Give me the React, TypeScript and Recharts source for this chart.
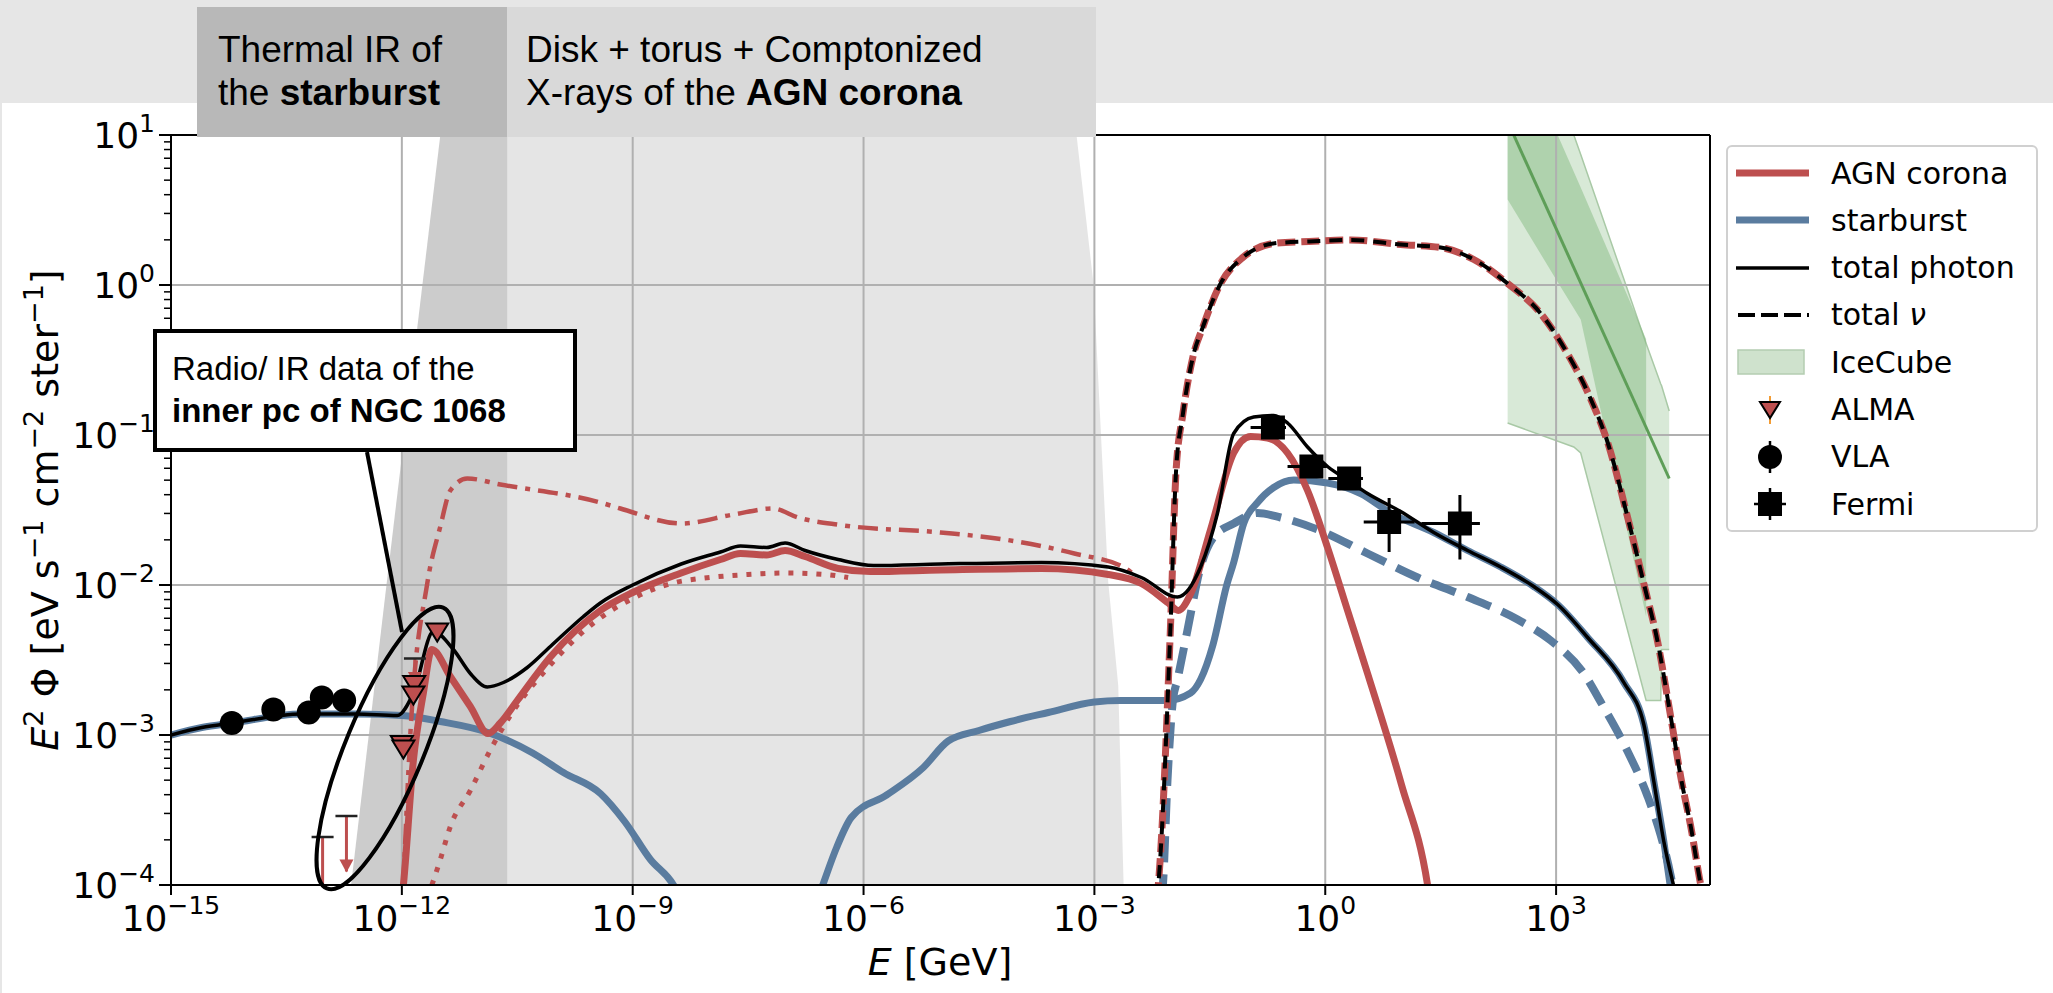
import React from 'react'
import {
  Area,
  ComposedChart,
  ErrorBar,
  Line,
  ReferenceLine,
  Scatter,
  XAxis,
  YAxis
} from 'recharts'

// every value is log10: x = log10(E / GeV), y = log10(E^2 Phi / eV s^-1 cm^-2 ster^-1)
type P = [number, number]

const xTicks = [-15, -12, -9, -6, -3, 0, 3]
const yTicks = [-4, -3, -2, -1, 0, 1]
const yMinorTicks = yTicks
  .slice(0, -1)
  .flatMap((d) => [2, 3, 4, 5, 6, 7, 8, 9].map((k) => d + Math.log10(k)))
const xGrid = [-12, -9, -6, -3, 0, 3]
const yGrid = [-3, -2, -1, 0]

// shaded energy ranges: [x, low, high]
const thermalBand = [
  [-12.66, -4, -4],
  [-12.2, -4, -2.0],
  [-11.5, -4, 1],
  [-10.63, -4, 1]
]
const diskBand = [
  [-10.63, -4, 1],
  [-3.23, -4, 0.99],
  [-3.01, -4, 0.0],
  [-2.82, -4, -1.98],
  [-2.69, -4, -2.67],
  [-2.62, -4, -4]
]

const starburstLow: P[] = [
  [-15.0, -3.0], [-14.6, -2.95], [-14.2, -2.92], [-13.3, -2.86], [-12.6, -2.86],
  [-12.0, -2.87], [-11.5, -2.91], [-10.9, -2.98], [-10.3, -3.12], [-9.9, -3.25],
  [-9.42, -3.39], [-9.1, -3.58], [-8.77, -3.83], [-8.47, -4.0], [-8.35, -4.12]
]
const starburstHigh: P[] = [
  [-6.6, -4.1], [-6.53, -4.0], [-6.35, -3.75], [-6.16, -3.55], [-5.7, -3.4],
  [-5.23, -3.22], [-4.9, -3.04], [-4.5, -2.97], [-4.09, -2.91], [-3.6, -2.85],
  [-3.0, -2.78], [-2.66, -2.77], [-2.06, -2.77], [-1.75, -2.72], [-1.62, -2.63],
  [-1.46, -2.4], [-1.28, -2.0], [-1.19, -1.85], [-1.06, -1.59], [-0.88, -1.45],
  [-0.67, -1.35], [-0.41, -1.3], [0.03, -1.32], [0.46, -1.39], [0.85, -1.52],
  [1.41, -1.65], [1.85, -1.77], [2.28, -1.88], [2.71, -2.01], [3.02, -2.13],
  [3.41, -2.35], [3.88, -2.65], [4.14, -2.93], [4.27, -3.31], [4.4, -3.71], [4.49, -4.03]
]
const starburstNu: P[] = [
  [-2.13, -4.1], [-2.11, -4.0], [-2.05, -3.3], [-1.98, -2.77], [-1.92, -2.63],
  [-1.79, -2.3], [-1.62, -1.88], [-1.45, -1.68], [-1.19, -1.59], [-0.88, -1.52],
  [-0.58, -1.55], [-0.1, -1.63], [0.55, -1.79], [1.2, -1.95], [1.85, -2.08],
  [2.5, -2.23], [2.93, -2.37], [3.36, -2.59], [3.58, -2.78], [3.93, -3.11],
  [4.19, -3.41], [4.36, -3.67], [4.49, -3.94], [4.53, -4.05]
]
const agnPhoton: P[] = [
  [-12.0, -4.1], [-11.98, -4.0], [-11.85, -3.17], [-11.72, -2.72], [-11.61, -2.43],
  [-11.37, -2.61], [-11.11, -2.81], [-10.88, -2.99], [-10.72, -2.92], [-10.5, -2.77],
  [-10.07, -2.48], [-9.42, -2.17], [-9.0, -2.05], [-8.37, -1.92], [-7.86, -1.83],
  [-7.6, -1.79], [-7.26, -1.8], [-7.02, -1.77], [-6.76, -1.81], [-6.33, -1.89],
  [-5.91, -1.91], [-5.0, -1.9], [-3.69, -1.89], [-2.82, -1.93], [-2.39, -1.99],
  [-2.04, -2.12], [-1.91, -2.17], [-1.75, -2.06], [-1.49, -1.63], [-1.19, -1.12],
  [-0.97, -1.01], [-0.75, -1.02], [-0.49, -1.12], [-0.23, -1.37], [0.03, -1.75],
  [0.29, -2.17], [0.55, -2.59], [0.99, -3.33], [1.33, -4.0], [1.36, -4.1]
]
const agnDashDot: P[] = [
  [-11.98, -4.0], [-11.89, -3.0], [-11.67, -1.99], [-11.5, -1.61], [-11.37, -1.37],
  [-11.15, -1.29], [-10.72, -1.33], [-9.42, -1.45], [-9.16, -1.49], [-8.37, -1.59],
  [-7.69, -1.53], [-7.18, -1.49], [-6.85, -1.55], [-6.3, -1.6], [-5.0, -1.65],
  [-4.13, -1.7], [-3.26, -1.79], [-2.59, -1.89], [-2.45, -1.95]
]
const agnDotted: P[] = [
  [-11.61, -4.0], [-11.5, -3.83], [-11.37, -3.61], [-11.11, -3.37], [-10.85, -3.1],
  [-10.59, -2.87], [-10.1, -2.55], [-9.5, -2.25], [-9.0, -2.09], [-8.5, -1.99],
  [-8.0, -1.95], [-7.5, -1.93], [-7.0, -1.92], [-6.5, -1.93], [-6.2, -1.95]
]
const agnNu: P[] = [
  [-2.19, -4.1], [-2.17, -4.0], [-2.01, -2.26], [-1.94, -1.25], [-1.85, -0.86],
  [-1.72, -0.48], [-1.59, -0.28], [-1.37, 0.0], [-1.08, 0.18], [-0.63, 0.28],
  [-0.21, 0.29], [0.33, 0.3], [0.98, 0.27], [1.5, 0.25], [1.93, 0.17],
  [2.37, 0.01], [2.8, -0.19], [3.15, -0.46], [3.45, -0.76], [3.67, -1.05],
  [3.93, -1.55], [4.14, -1.99], [4.32, -2.38], [4.49, -2.88], [4.62, -3.28],
  [4.75, -3.61], [4.88, -4.0], [4.92, -4.1]
]
const totalPhoton: P[] = [
  [-15.0, -3.0], [-14.6, -2.95], [-14.2, -2.92], [-13.3, -2.86], [-12.6, -2.86],
  [-12.06, -2.87], [-11.85, -2.72], [-11.59, -2.31], [-11.33, -2.43], [-11.11, -2.59],
  [-10.89, -2.68], [-10.68, -2.65], [-10.37, -2.55], [-10.07, -2.41], [-9.64, -2.21],
  [-9.42, -2.12], [-9.0, -2.0], [-8.37, -1.86], [-7.86, -1.78], [-7.6, -1.74],
  [-7.26, -1.75], [-7.02, -1.72], [-6.76, -1.77], [-6.33, -1.83], [-5.87, -1.87],
  [-5.0, -1.86], [-3.69, -1.85], [-2.82, -1.88], [-2.39, -1.95], [-1.92, -2.08],
  [-1.62, -1.88], [-1.4, -1.52], [-1.19, -0.99], [-0.93, -0.88], [-0.67, -0.87],
  [-0.49, -0.92], [-0.23, -1.08], [0.03, -1.21], [0.29, -1.3], [0.55, -1.39],
  [0.98, -1.51], [1.41, -1.65], [1.85, -1.77], [2.28, -1.88], [2.71, -2.01],
  [3.02, -2.13], [3.41, -2.35], [3.88, -2.65], [4.14, -2.93], [4.27, -3.31],
  [4.4, -3.71], [4.53, -4.01]
]
const totalNu: P[] = agnNu

// IceCube: [x, low, high]
const iceOuter = [
  [2.37, -0.92, 1.6], [3.23, -1.08, 1.0], [3.32, -1.12, 0.87], [4.17, -2.77, -0.39],
  [4.36, -2.77, -0.66], [4.37, -2.43, -0.67], [4.47, -2.43, -0.84]
]
const iceInner = [
  [2.37, 0.57, 1.6], [3.02, 0.02, 1.0], [3.32, -0.23, 0.65], [4.17, -2.21, -0.36]
]
const iceFit: P[] = [[2.37, 1.09], [4.47, -1.29]]

const vla: P[] = [[-14.21, -2.92], [-13.67, -2.83], [-13.21, -2.85], [-13.04, -2.75], [-12.75, -2.77]]
const alma: P[] = [[-11.54, -2.31], [-11.84, -2.66], [-11.85, -2.73], [-12.0, -3.06], [-11.98, -3.09]]
// [x, cap, tip]
const upperLimits = [[-13.03, -3.68, -4.3], [-12.72, -3.54, -3.91], [-11.83, -2.49, -2.66]]
// [x, y, x minus, x plus, y minus, y plus]
const fermi = [
  [-0.68, -0.95, 0.29, 0.17, 0, 0],
  [-0.18, -1.21, 0.31, 0.2, 0, 0],
  [0.31, -1.29, 0.27, 0.18, 0, 0],
  [0.83, -1.58, 0.33, 0.33, 0.2, 0.16],
  [1.75, -1.59, 0.5, 0.26, 0.24, 0.19]
]

const W = 2053
const H = 993
const FONT = '"DejaVu Sans", sans-serif'
const ARIAL = '"Liberation Sans", Arial, sans-serif'
const RED = '#bd4f4f'
const BLUE = '#5a7c9f'
const GREEN = '#5e9e58'

const pts = (a: P[]) => a.map(([x, y]) => ({ x, y }))
const band = (a: number[][]) => a.map(([x, lo, hi]) => ({ x, r: [lo, hi] }))
const sup = (v: number) => (v < 0 ? `\u2212${-v}` : `${v}`)

const XTick = ({ x, y, payload }: any) => (
  <g>
    <line x1={x} x2={x} y1={y} y2={y + 10} stroke="#000" strokeWidth={2} />
    <text x={x} y={y + 46} textAnchor="middle" fontFamily={FONT} fontSize={36} fill="#000">
      10<tspan dy={-17} fontSize={25}>{sup(payload.value)}</tspan>
    </text>
  </g>
)

const YTick = ({ x, y, payload }: any) => {
  const v = payload.value
  const major = Number.isInteger(v)
  return (
    <g>
      <line x1={x - (major ? 12 : 7)} x2={x} y1={y} y2={y} stroke="#000" strokeWidth={major ? 2 : 1.5} />
      {major && (
        <text x={x - 16} y={y + 13} textAnchor="end" fontFamily={FONT} fontSize={36} fill="#000">
          10<tspan dy={-16} fontSize={25}>{sup(v)}</tspan>
        </text>
      )}
    </g>
  )
}

const VlaDot = ({ cx, cy }: any) => <circle cx={cx} cy={cy} r={12} fill="#000" />
const AlmaMark = ({ cx, cy }: any) => (
  <path d={`M${cx - 11},${cy - 8} L${cx + 11},${cy - 8} L${cx},${cy + 10} Z`} fill={RED} stroke="#000" strokeWidth={2} />
)
const FermiMark = ({ cx, cy }: any) => <rect x={cx - 12} y={cy - 12} width={24} height={24} fill="#000" />
const LimitCap = ({ cx, cy }: any) => (
  <line x1={cx - 11} x2={cx + 11} y1={cy} y2={cy} stroke="#222" strokeWidth={2.5} />
)
const LimitHead = ({ cx, cy }: any) => (
  <path d={`M${cx - 7},${cy - 12} L${cx + 7},${cy - 12} L${cx},${cy + 1} Z`} fill={RED} />
)

const curve = (data: P[], color: string, width: number, dash?: string) => (
  <Line
    data={pts(data)}
    dataKey="y"
    type="monotoneX"
    stroke={color}
    strokeWidth={width}
    strokeDasharray={dash}
    dot={false}
    activeDot={false}
    isAnimationActive={false}
  />
)

const legendItems = ['AGN corona', 'starburst', 'total photon', 'total \u03bd', 'IceCube', 'ALMA', 'VLA', 'Fermi']

const LegendIcon = ({ i }: { i: number }) => {
  const c = 36
  return (
    <svg width={80} height={40} style={{ display: 'block' }}>
      {i === 0 && <line x1={2} x2={75} y1={20} y2={20} stroke={RED} strokeWidth={7} />}
      {i === 1 && <line x1={2} x2={75} y1={20} y2={20} stroke={BLUE} strokeWidth={7} />}
      {i === 2 && <line x1={2} x2={75} y1={20} y2={20} stroke="#000" strokeWidth={3.5} />}
      {i === 3 && <line x1={4} x2={75} y1={20} y2={20} stroke="#000" strokeWidth={4} strokeDasharray="17 6" />}
      {i === 4 && <rect x={4} y={8} width={66} height={24} fill="#cfe2cd" stroke="#b4cdb1" strokeWidth={1.5} />}
      {i === 5 && (
        <g>
          <line x1={c} x2={c} y1={6} y2={34} stroke="#f39c34" strokeWidth={2} />
          <path d={`M${c - 10},12 L${c + 10},12 L${c},28 Z`} fill={RED} stroke="#000" strokeWidth={2} />
        </g>
      )}
      {i === 6 && (
        <g>
          <line x1={c} x2={c} y1={4} y2={36} stroke="#000" strokeWidth={2.5} />
          <circle cx={c} cy={20} r={12} fill="#000" />
        </g>
      )}
      {i === 7 && (
        <g>
          <line x1={c} x2={c} y1={4} y2={36} stroke="#000" strokeWidth={2.5} />
          <line x1={c - 16} x2={c + 16} y1={20} y2={20} stroke="#000" strokeWidth={2.5} />
          <rect x={c - 12} y={8} width={24} height={24} fill="#000" />
        </g>
      )}
    </svg>
  )
}

const ChartLegend = () => (
  <div
    style={{
      position: 'absolute',
      left: 1726,
      top: 145,
      width: 312,
      height: 387,
      boxSizing: 'border-box',
      border: '2px solid #d0d0d0',
      borderRadius: 6,
      background: '#fff'
    }}
  >
    {legendItems.map((label, i) => (
      <div
        key={label}
        style={{ position: 'absolute', left: 6, top: 6 + i * 47.3, height: 40, display: 'flex', alignItems: 'center' }}
      >
        <LegendIcon i={i} />
        <span style={{ marginLeft: 17, fontFamily: FONT, fontSize: 30, color: '#000', whiteSpace: 'nowrap' }}>
          {i === 3 ? (
            <>
              total <span style={{ fontStyle: 'italic' }}>{'\u03bd'}</span>
            </>
          ) : (
            label
          )}
        </span>
      </div>
    ))}
  </div>
)

const headerText: React.CSSProperties = {
  fontFamily: ARIAL,
  fontSize: 37,
  lineHeight: '43px',
  color: '#000',
  whiteSpace: 'nowrap'
}

const Header = () => (
  <>
    <div style={{ position: 'absolute', left: 0, top: 0, width: W, height: 103, background: '#e6e6e6' }} />
    <div style={{ position: 'absolute', left: 0, top: 103, width: 2, height: H - 103, background: '#e6e6e6' }} />
    <div
      style={{ ...headerText, position: 'absolute', left: 197, top: 7, width: 310, height: 130, background: '#b8b8b8', boxSizing: 'border-box', padding: '21px 0 0 21px' }}
    >
      Thermal IR of
      <br />
      the <b>starburst</b>
    </div>
    <div
      style={{ ...headerText, position: 'absolute', left: 507, top: 7, width: 589, height: 130, background: '#d9d9d9', boxSizing: 'border-box', padding: '21px 0 0 19px' }}
    >
      Disk + torus + Comptonized
      <br />
      X-rays of the <b>AGN corona</b>
    </div>
  </>
)

const Annotation = () => (
  <>
    <svg width={W} height={H} style={{ position: 'absolute', left: 0, top: 0, pointerEvents: 'none' }}>
      <ellipse cx={385} cy={748} rx={152} ry={39} transform="rotate(-67.5 385 748)" fill="none" stroke="#000" strokeWidth={4} />
      <line x1={367} y1={452} x2={402} y2={632} stroke="#000" strokeWidth={4} />
      <text x={940} y={975} textAnchor="middle" fontFamily={FONT} fontSize={38} fill="#000">
        <tspan fontStyle="italic">E</tspan> [GeV]
      </text>
      <text x={58} y={510} transform="rotate(-90 58 510)" textAnchor="middle" fontFamily={FONT} fontSize={38} fill="#000">
        <tspan fontStyle="italic">E</tspan>
        <tspan dy={-15} fontSize={27}>2</tspan>
        <tspan dy={15}> {'\u03a6'} [eV s</tspan>
        <tspan dy={-15} fontSize={27}>{'\u22121'}</tspan>
        <tspan dy={15}> cm</tspan>
        <tspan dy={-15} fontSize={27}>{'\u22122'}</tspan>
        <tspan dy={15}> ster</tspan>
        <tspan dy={-15} fontSize={27}>{'\u22121'}</tspan>
        <tspan dy={15}>]</tspan>
      </text>
    </svg>
    <div
      style={{
        position: 'absolute',
        left: 153,
        top: 329,
        width: 424,
        height: 123,
        boxSizing: 'border-box',
        border: '4px solid #000',
        background: '#fff',
        padding: '15px 0 0 15px',
        fontFamily: ARIAL,
        fontSize: 33,
        lineHeight: '42px',
        color: '#000',
        whiteSpace: 'nowrap'
      }}
    >
      Radio/ IR data of the
      <br />
      <b>inner pc of NGC 1068</b>
    </div>
  </>
)

export default function App() {
  const fermiData = fermi.map(([x, y, xm, xp, ym, yp]) => ({ x, y, ex: [xm, xp], ey: [ym, yp] }))
  const heads = upperLimits.filter((l) => l[2] > -4).map(([x, , tip]) => ({ x, y: tip }))
  const caps = upperLimits.map(([x, cap]) => ({ x, y: cap }))

  return (
    <div style={{ position: 'absolute', left: 0, top: 0, width: W, height: H, background: '#fff', overflow: 'hidden' }}>
      <ComposedChart width={W} height={H} margin={{ top: 135, right: 343, bottom: 0, left: 0 }}>
        <XAxis
          type="number"
          dataKey="x"
          domain={[-15, 5]}
          ticks={xTicks}
          interval={0}
          allowDataOverflow
          height={108}
          tick={<XTick />}
          tickLine={false}
          tickSize={0}
          tickMargin={0}
          axisLine={{ stroke: '#000', strokeWidth: 2 }}
        />
        <YAxis
          type="number"
          domain={[-4, 1]}
          ticks={[...yTicks, ...yMinorTicks]}
          interval={0}
          allowDataOverflow
          width={171}
          tick={<YTick />}
          tickLine={false}
          tickSize={0}
          tickMargin={0}
          axisLine={{ stroke: '#000', strokeWidth: 2 }}
        />

        <Area data={band(thermalBand)} dataKey="r" type="linear" stroke="none" fill="#000" fillOpacity={0.2} isAnimationActive={false} />
        <Area data={band(diskBand)} dataKey="r" type="linear" stroke="none" fill="#000" fillOpacity={0.1} isAnimationActive={false} />

        {xGrid.map((v) => (
          <ReferenceLine key={`gx${v}`} x={v} stroke="#b0b0b0" strokeWidth={2} />
        ))}
        {yGrid.map((v) => (
          <ReferenceLine key={`gy${v}`} y={v} stroke="#b0b0b0" strokeWidth={2} />
        ))}

        <Area data={band(iceOuter)} dataKey="r" type="linear" stroke="#a9c9a6" strokeWidth={1.5} fill="#7fb57a" fillOpacity={0.3} isAnimationActive={false} />
        <Area data={band(iceInner)} dataKey="r" type="linear" stroke="none" fill="#7fb57a" fillOpacity={0.45} isAnimationActive={false} />
        {curve(iceFit, GREEN, 3)}

        {curve(starburstLow, BLUE, 7)}
        {curve(starburstHigh, BLUE, 7)}
        {curve(starburstNu, BLUE, 8, '26 12')}
        {curve(agnDotted, RED, 5, '5 9')}
        {curve(agnDashDot, RED, 4.5, '20 8 5 8')}
        {curve(agnPhoton, RED, 7)}
        {curve(agnNu, RED, 7, '18 6')}
        {curve(totalNu, '#000', 4, '13 9')}
        {curve(totalPhoton, '#000', 3.5)}

        {upperLimits.map(([x, cap, tip]) => (
          <Line
            key={`ul${x}`}
            data={[{ x, y: cap }, { x, y: tip }]}
            dataKey="y"
            type="linear"
            stroke={RED}
            strokeWidth={3}
            dot={false}
            activeDot={false}
            isAnimationActive={false}
          />
        ))}
        <Scatter data={caps} dataKey="y" shape={<LimitCap />} isAnimationActive={false} />
        <Scatter data={heads} dataKey="y" shape={<LimitHead />} isAnimationActive={false} />
        <Scatter data={pts(alma)} dataKey="y" shape={<AlmaMark />} isAnimationActive={false} />
        <Scatter data={pts(vla)} dataKey="y" shape={<VlaDot />} isAnimationActive={false} />
        <Scatter data={fermiData} dataKey="y" shape={<FermiMark />} isAnimationActive={false}>
          <ErrorBar dataKey="ex" direction="x" width={0} stroke="#000" strokeWidth={3} />
          <ErrorBar dataKey="ey" direction="y" width={0} stroke="#000" strokeWidth={3} />
        </Scatter>

        <ReferenceLine y={1} stroke="#000" strokeWidth={2} />
        <ReferenceLine x={5} stroke="#000" strokeWidth={2} />
      </ComposedChart>
      <Header />
      <Annotation />
      <ChartLegend />
    </div>
  )
}
